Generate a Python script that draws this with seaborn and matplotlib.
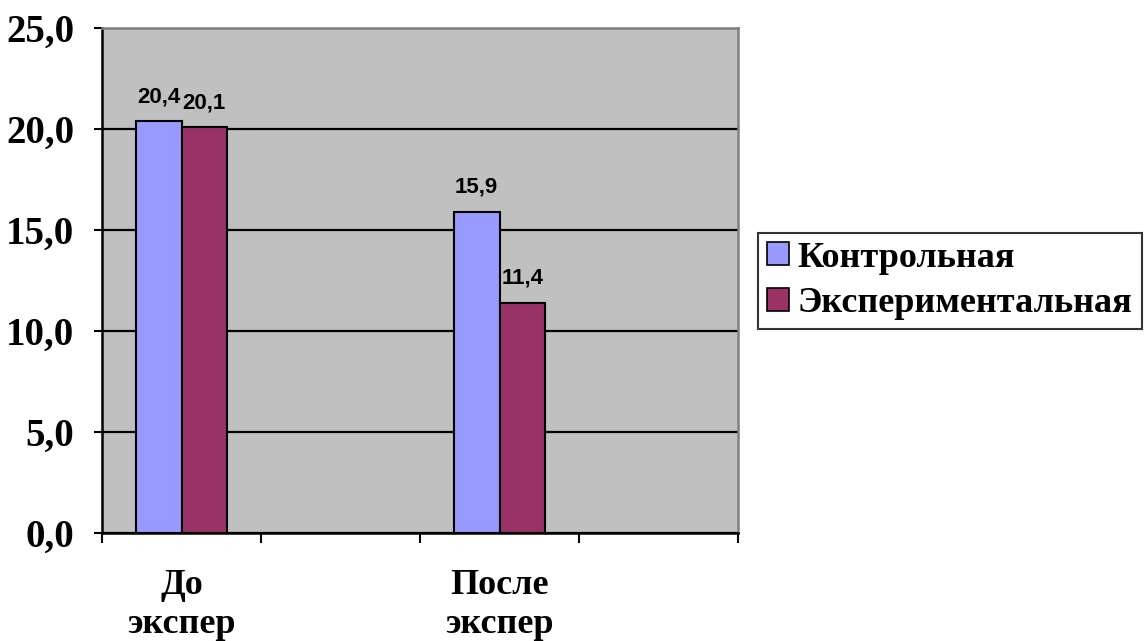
import numpy as np
import pandas as pd
import matplotlib
matplotlib.use("Agg")
import matplotlib.pyplot as plt
from matplotlib.ticker import FixedLocator, FuncFormatter
import seaborn as sns

# Categories on the x axis (two blank slots keep the Excel-like spacing)
categories = ["До\nэкспер", "", "После\nэкспер", " "]
groups = ["До\nэкспер", "После\nэкспер"]
series_names = ["Контрольная", "Экспериментальная"]
control_values = [20.4, 15.9]
experimental_values = [20.1, 11.4]
colors = ["#9999FF", "#993366"]
y_ticks = [0, 5, 10, 15, 20, 25]

df = pd.DataFrame({
    "group": groups * 2,
    "series": [series_names[0]] * len(groups) + [series_names[1]] * len(groups),
    "value": control_values + experimental_values,
})

sns.set_theme(style="white")
plt.rcParams["text.color"] = "black"
plt.rcParams["xtick.color"] = "black"
plt.rcParams["ytick.color"] = "black"
serif = ["Liberation Serif", "DejaVu Serif"]
sans = ["Liberation Sans", "DejaVu Sans"]

fig = plt.figure(figsize=(11.44, 6.41), dpi=100)
ax = fig.add_axes([102 / 1144, 1 - 533 / 641, (738 - 102) / 1144, (533 - 28) / 641])
ax.set_facecolor("#C0C0C0")

sns.barplot(data=df, x="group", y="value", hue="series", order=categories,
            hue_order=series_names, palette=colors, width=0.573,
            edgecolor="black", linewidth=1.5, saturation=1, ax=ax, zorder=3)

# Value labels with comma decimals
for cont in ax.containers:
    labels = [f"{b.get_height():.1f}".replace(".", ",") for b in cont]
    ax.bar_label(cont, labels=labels, padding=10, fontsize=16,
                 fontweight="bold", family=sans, color="black")

ax.set_ylim(0, 25)
ax.set_xlim(-0.5, len(categories) - 0.5)
ax.set_yticks(y_ticks)
ax.yaxis.set_major_formatter(FuncFormatter(lambda v, p: f"{v:.1f}".replace(".", ",")))
ax.yaxis.grid(True, color="black", linewidth=1.6, zorder=1)
ax.set_axisbelow(True)

# Category boundaries carry the tick marks, labels sit in the slot centres
ax.xaxis.set_major_locator(FixedLocator(np.arange(-0.5, len(categories), 1.0)))
ax.xaxis.set_major_formatter(FuncFormatter(lambda v, p: ""))
ax.xaxis.set_minor_locator(FixedLocator(np.arange(len(categories))))
ax.xaxis.set_minor_formatter(FuncFormatter(lambda v, p: categories[int(round(v))]))
ax.tick_params(axis="x", which="major", length=7, width=1.5, color="black", direction="out", bottom=True)
ax.tick_params(axis="x", which="minor", length=0, pad=26, bottom=True, labelcolor="black")
ax.tick_params(axis="y", length=6, width=1.5, color="black", direction="out", pad=14,
               left=True, labelcolor="black")

for lab in ax.get_xticklabels(minor=True):
    lab.set_fontfamily(serif)
    lab.set_fontsize(26)
    lab.set_fontweight("bold")
    lab.set_linespacing(1.25)
for lab in ax.get_yticklabels():
    lab.set_fontfamily(serif)
    lab.set_fontsize(28)
    lab.set_fontweight("bold")

ax.set_xlabel("")
ax.set_ylabel("")

for side in ["left", "bottom"]:
    ax.spines[side].set_color("black")
    ax.spines[side].set_linewidth(1.8)
for side in ["top", "right"]:
    ax.spines[side].set_color("#808080")
    ax.spines[side].set_linewidth(1.8)
    ax.spines[side].set_visible(True)

handles, labels = ax.get_legend_handles_labels()
if ax.legend_:
    ax.legend_.remove()
leg = fig.legend(handles, labels, loc="center left",
                 bbox_to_anchor=(758 / 1144, 1 - 281 / 641),
                 frameon=True, fancybox=False, edgecolor="black",
                 prop={"family": serif, "weight": "bold", "size": 26},
                 handlelength=0.6, handleheight=0.6, handletextpad=0.25,
                 borderpad=0.25, labelspacing=0.35, borderaxespad=0)
leg.get_frame().set_linewidth(1.5)
for h in leg.legend_handles:
    h.set_edgecolor("black")
    h.set_linewidth(1.2)

fig.savefig("out.png", dpi=100, facecolor="white")
